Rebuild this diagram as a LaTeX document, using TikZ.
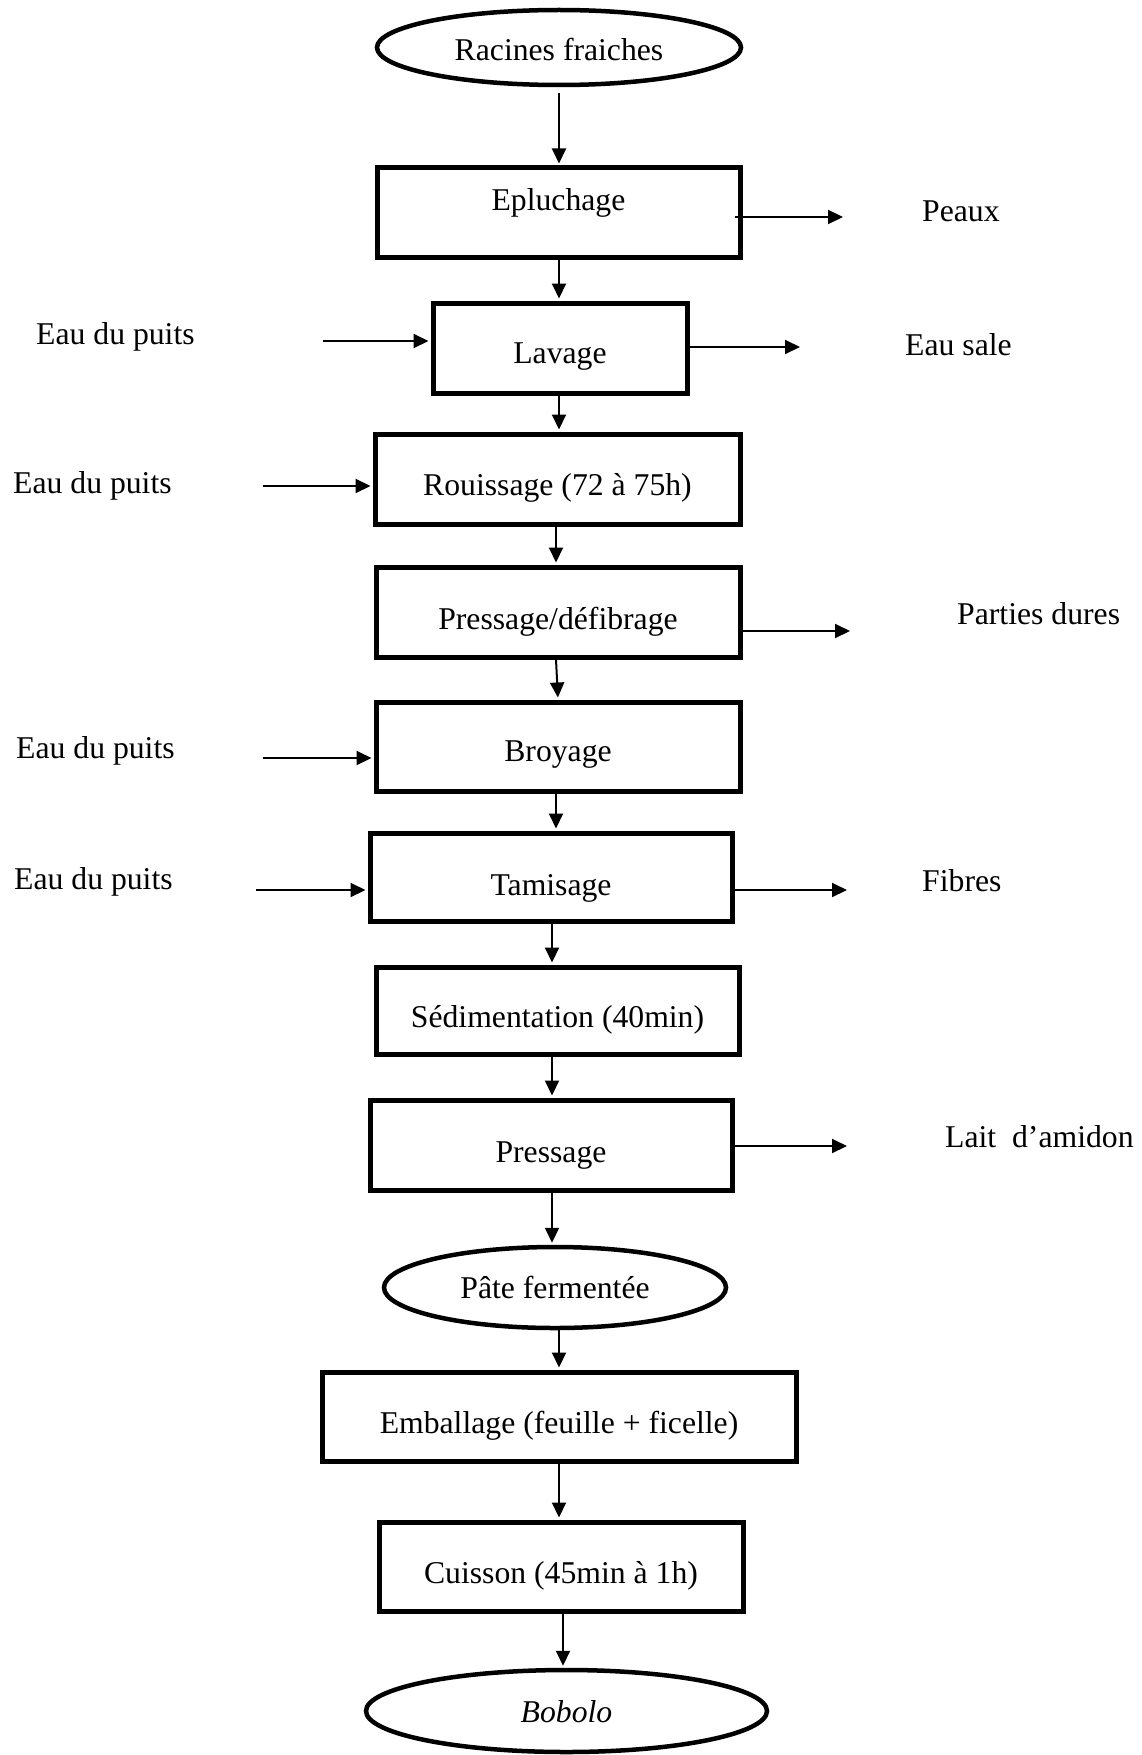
\documentclass[tikz,border=0pt]{standalone}
\usepackage{fontspec}
\setmainfont{Liberation Serif}
\usetikzlibrary{shapes.geometric,arrows.meta}

\newcommand\diagfont{\fontsize{31.7pt}{38pt}\selectfont}

\tikzset{
  stepbox/.style={draw, rectangle, line width=5pt, inner sep=0pt, font=\diagfont},
  endoval/.style={draw, ellipse, line width=4.5pt, inner sep=0pt, font=\diagfont},
  sidetext/.style={inner sep=0pt, anchor=base west, font=\diagfont},
  flow/.style={line width=2pt, -{Triangle[length=15pt,width=14pt]}},
  % baseline shift of the text inside a shape: text height / depth pair
  tshift/.style 2 args={text height=#1, text depth=#2},
}

\begin{document}
\begin{tikzpicture}[x=1pt, y=-1pt]
  \useasboundingbox (0,0) rectangle (1141,1755);

  % main column
  \node[endoval, minimum width=364pt, minimum height=75pt, tshift={33.5pt}{6.5pt}]
    (ra) at (559,47.5) {Racines fraiches};
  \node[stepbox, minimum width=363pt, minimum height=89pt, tshift={18.5pt}{21.5pt}]
    (ep) at (558.5,212.5) {Epluchage};
  \node[stepbox, minimum width=254pt, minimum height=90pt, tshift={35pt}{5pt}]
    (lv) at (560,348) {Lavage};
  \node[stepbox, minimum width=365pt, minimum height=90pt, tshift={36pt}{4pt}]
    (ro) at (557.5,479) {Rouissage (72 à 75h)};
  \node[stepbox, minimum width=364pt, minimum height=90pt, tshift={37pt}{3pt}]
    (pd) at (558,612) {Pressage/défibrage};
  \node[stepbox, minimum width=364pt, minimum height=89pt, tshift={34.5pt}{5.5pt}]
    (br) at (558,746.5) {Broyage};
  \node[stepbox, minimum width=362pt, minimum height=88pt, tshift={38pt}{2pt}]
    (ta) at (551,877) {Tamisage};
  \node[stepbox, minimum width=363pt, minimum height=87pt, tshift={36.5pt}{3.5pt}]
    (se) at (557.5,1010.5) {Sédimentation (40min)};
  \node[stepbox, minimum width=362pt, minimum height=90pt, tshift={37pt}{3pt}]
    (pr) at (551,1145) {Pressage};
  \node[endoval, minimum width=342pt, minimum height=81pt, tshift={30.5pt}{9.5pt}]
    (pa) at (555,1287.5) {Pâte fermentée};
  \node[stepbox, minimum width=474pt, minimum height=89pt, tshift={36.5pt}{3.5pt}]
    (em) at (559,1416.5) {Emballage (feuille + ficelle)};
  \node[stepbox, minimum width=364pt, minimum height=89pt, tshift={36.5pt}{3.5pt}]
    (cu) at (561,1566.5) {Cuisson (45min à 1h)};
  \node[endoval, minimum width=401pt, minimum height=82pt, tshift={31pt}{9pt}]
    (bo) at (566.5,1711) {\itshape Bobolo};

  % inputs on the left
  \node[sidetext] (e1) at (36,344) {Eau du puits};
  \node[sidetext] (e2) at (13,493) {Eau du puits};
  \node[sidetext] (e3) at (16,758) {Eau du puits};
  \node[sidetext] (e4) at (14,889) {Eau du puits};

  % outputs on the right
  \node[sidetext] (o1) at (922,221) {Peaux};
  \node[sidetext] (o2) at (905,355) {Eau sale};
  \node[sidetext] (o3) at (957,624) {Parties dures};
  \node[sidetext] (o4) at (922,891) {Fibres};
  \node[sidetext] (o5) at (945,1147) {Lait\ \ d’amidon};

  % vertical flow
  \draw[flow, shorten <=6pt, shorten >=2pt] (ra.south -| 559,0) -- (ep.north -| 559,0);
  \draw[flow, shorten >=2pt] (ep.south -| 559,0) -- (lv.north -| 559,0);
  \draw[flow, shorten >=2pt] (lv.south -| 559,0) -- (ro.north -| 559,0);
  \draw[flow, shorten >=2pt] (ro.south -| 556,0) -- (pd.north -| 556,0);
  \draw[flow, shorten >=2pt] (pd.south -| 556,0) -- (br.north -| 558,0);
  \draw[flow, shorten >=2pt] (br.south -| 556,0) -- (ta.north -| 556,0);
  \draw[flow, shorten >=2pt] (ta.south -| 552,0) -- (se.north -| 552,0);
  \draw[flow, shorten >=2pt] (se.south -| 552,0) -- (pr.north -| 552,0);
  \draw[flow, shorten >=2pt] (pr.south -| 552,0) -- (pa.north -| 552,0);
  \draw[flow, shorten >=2pt] (pa.south -| 559,0) -- (em.north -| 559,0);
  \draw[flow, shorten >=2pt] (em.south -| 559,0) -- (cu.north -| 559,0);
  \draw[flow, shorten >=2pt] (cu.south -| 563,0) -- (bo.north -| 563,0);

  % water inputs
  \coordinate (w1) at (323,341);
  \coordinate (w2) at (263,486);
  \coordinate (w3) at (263,758);
  \coordinate (w4) at (256,890);
  \draw[flow, shorten >=2pt] (w1) -- (w1 -| lv.west);
  \draw[flow, shorten >=2pt] (w2) -- (w2 -| ro.west);
  \draw[flow, shorten >=2pt] (w3) -- (w3 -| br.west);
  \draw[flow, shorten >=2pt] (w4) -- (w4 -| ta.west);

  % by-products
  \coordinate (r1) at (843,217);
  \coordinate (r2) at (800,347);
  \coordinate (r3) at (850,631);
  \coordinate (r4) at (847,890);
  \coordinate (r5) at (847,1146);
  \draw[flow] (r1 -| 735,0) -- (r1);
  \draw[flow] (r2 -| lv.east) -- (r2);
  \draw[flow] (r3 -| pd.east) -- (r3);
  \draw[flow] (r4 -| ta.east) -- (r4);
  \draw[flow] (r5 -| pr.east) -- (r5);
\end{tikzpicture}
\end{document}
